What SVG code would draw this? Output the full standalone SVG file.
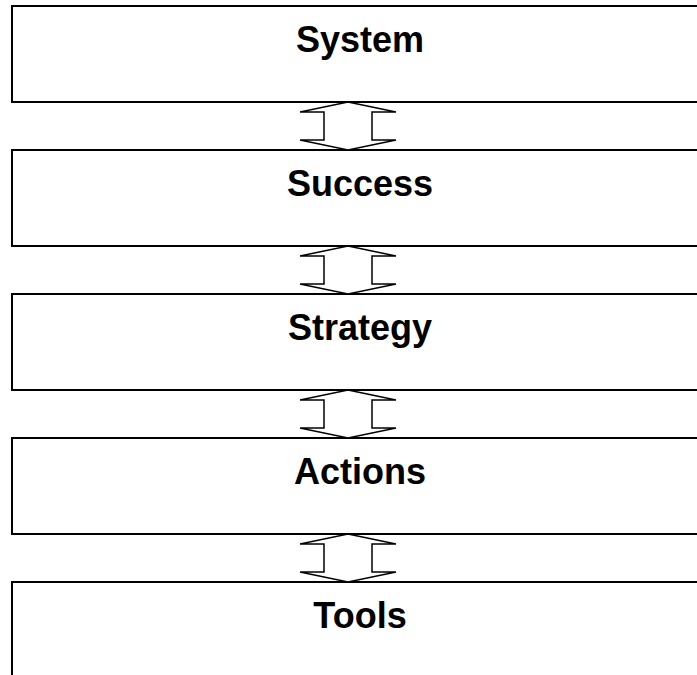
<svg xmlns="http://www.w3.org/2000/svg" width="697" height="675" viewBox="0 0 697 675">
<style>
.box{fill:#fff;stroke:#000;stroke-width:2}
.lbl{font-family:"Liberation Sans",Arial,sans-serif;font-weight:bold;font-size:36px;text-anchor:middle;fill:#000}
.arr{fill:#fff;stroke:#000;stroke-width:1.5;stroke-linejoin:miter}
</style>
<defs>
<path id="dbl" class="arr" d="M348,0 L396,10 L372,10 L372,38 L396,38 L348,48 L300,38 L324,38 L324,10 L300,10 Z"/>
</defs>
<rect width="697" height="675" fill="#fff"/>
<g id="node-system"><rect class="box" x="12" y="6" width="700" height="96"/><text class="lbl" x="360" y="52">System</text></g>
<g id="node-success"><rect class="box" x="12" y="150" width="700" height="96"/><text class="lbl" x="360" y="196">Success</text></g>
<g id="node-strategy"><rect class="box" x="12" y="294" width="700" height="96"/><text class="lbl" x="360" y="340">Strategy</text></g>
<g id="node-actions"><rect class="box" x="12" y="438" width="700" height="96"/><text class="lbl" x="360" y="484">Actions</text></g>
<g id="node-tools"><rect class="box" x="12" y="582" width="700" height="120"/><text class="lbl" x="360" y="628">Tools</text></g>
<g id="connectors">
<use href="#dbl" y="102"/>
<use href="#dbl" y="246"/>
<use href="#dbl" y="390"/>
<use href="#dbl" y="534"/>
</g>
</svg>
